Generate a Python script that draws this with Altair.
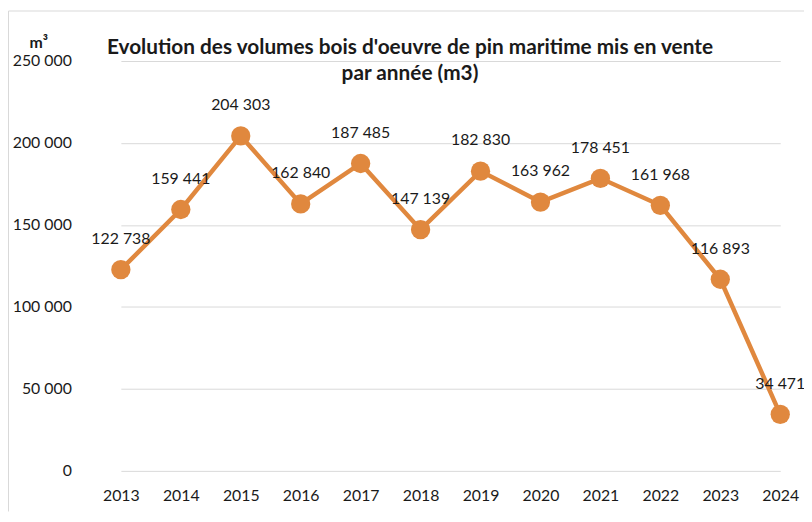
import altair as alt
import pandas as pd

years = ["2013", "2014", "2015", "2016", "2017", "2018", "2019", "2020", "2021", "2022", "2023", "2024"]
volumes = [122738, 159441, 204303, 162840, 187485, 147139, 182830, 163962, 178451, 161968, 116893, 34471]
y_ticks = [0, 50000, 100000, 150000, 200000, 250000]
title_lines = ["Evolution des volumes bois d'oeuvre de pin maritime mis en vente", "par année (m3)"]
unit_label = "m³"

ORANGE = "#E0883E"
FONT = "Lato"
TXT = "#1a1a1a"

df = pd.DataFrame({
    "year": years,
    "value": volumes,
    "label": [f"{v:,}".replace(",", " ") for v in volumes],
})

W, H = 722, 414

x_enc = alt.X("year:O", scale=alt.Scale(type="point", range=[32, 698], padding=0),
              axis=alt.Axis(title=None, domain=False, ticks=False, labelAngle=0,
                            labelFont=FONT, labelFontSize=16, labelColor=TXT,
                            labelPadding=17, grid=False))
y_enc = alt.Y("value:Q", scale=alt.Scale(domain=[0, 250000], nice=False),
              axis=alt.Axis(title=None, domain=False, ticks=False, values=y_ticks,
                            labelExpr="replace(format(datum.value, ','), regexp(',', 'g'), ' ')",
                            labelFont=FONT, labelFontSize=16, labelColor=TXT,
                            labelPadding=18, grid=True, gridColor="#d9d9d9", gridWidth=1))

base = alt.Chart(df)
line = base.mark_line(color=ORANGE, strokeWidth=4.5).encode(x=x_enc, y=y_enc)
pts = base.mark_circle(color=ORANGE, size=380, opacity=1).encode(x="year:O", y="value:Q")
labels = base.mark_text(dy=-31, font=FONT, fontSize=16, color=TXT).encode(
    x="year:O", y="value:Q", text="label:N")

one = pd.DataFrame({"a": [0]})
t1 = alt.Chart(one).mark_text(text=title_lines[0], font=FONT, fontSize=21, fontWeight="bold",
                              color=TXT, align="center", baseline="alphabetic").encode(
    x=alt.value(324), y=alt.value(-7))
t2 = alt.Chart(one).mark_text(text=title_lines[1], font=FONT, fontSize=21, fontWeight="bold",
                              color=TXT, align="center", baseline="alphabetic").encode(
    x=alt.value(324), y=alt.value(19))
unit = alt.Chart(one).mark_text(text=unit_label, font=FONT, fontSize=16, fontWeight="bold",
                                color=TXT, align="center", baseline="alphabetic").encode(
    x=alt.value(-51), y=alt.value(-13))
frame_left = alt.Chart(one).mark_rule(color="#d9d9d9", strokeWidth=1).encode(
    x=alt.value(-81.5), y=alt.value(-50.5), y2=alt.value(H + 41))
frame_top = alt.Chart(one).mark_rule(color="#d9d9d9", strokeWidth=1).encode(
    x=alt.value(-81.5), x2=alt.value(W), y=alt.value(-50.5))

chart = alt.layer(frame_left, frame_top, line, pts, labels, t1, t2, unit).properties(
    width=W, height=H,
    autosize=alt.AutoSizeParams(type="none"),
    padding={"left": 82, "top": 51, "right": 0, "bottom": 41},
    background="white",
).configure_view(stroke=None)

chart.save("out.html", embed_options={"renderer": "svg", "actions": False})
